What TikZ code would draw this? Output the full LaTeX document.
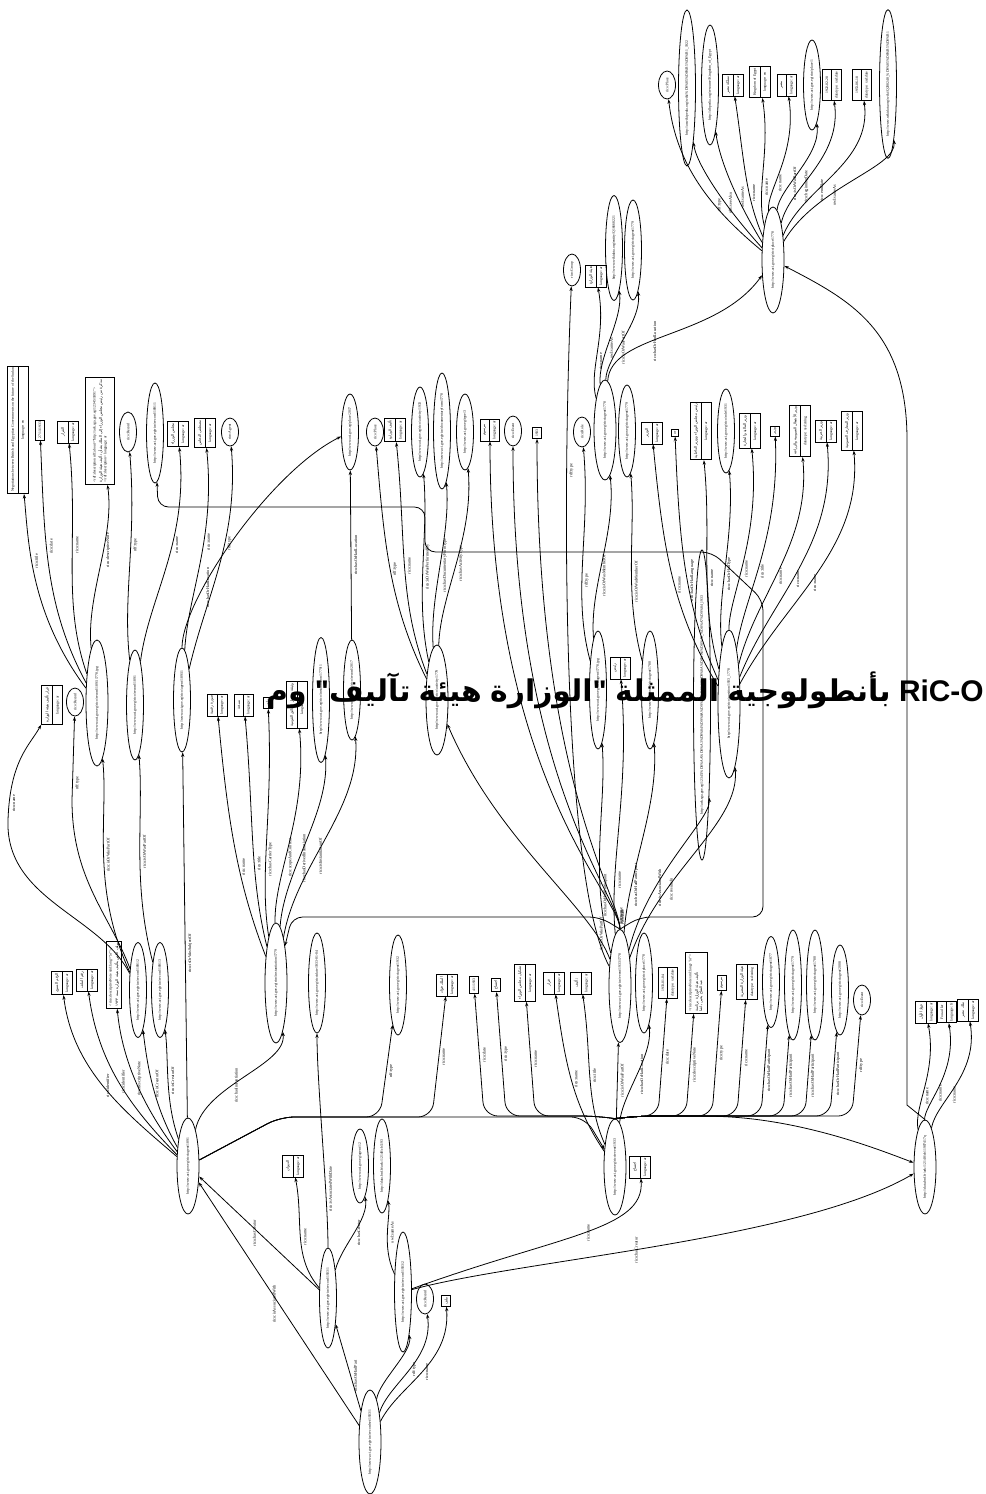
\documentclass[tikz,border=0pt]{standalone}
\usepackage{fontspec}
\setmainfont{Liberation Serif}
\newfontfamily\arabicfont[Script=Arabic]{DejaVu Sans}
\newfontfamily\titlefont{Liberation Sans}
\TeXXeTstate=1
\usetikzlibrary{shapes.geometric, shapes.multipart, arrows.meta, positioning}

\newcommand{\tx}{\fontsize{2.1}{2.5}\selectfont}
\newcommand{\lx}{\fontsize{2.4}{2.8}\selectfont}
\newcommand{\artxt}[1]{{\arabicfont\beginR #1\endR}}
\newcommand{\tw}[1]{{\arabicfont\bfseries\beginR #1\endR}}

\begin{document}
\begin{tikzpicture}[
  x=0.02cm, y=-0.02cm,
  ent/.style={ellipse, draw, line width=0.45pt, rotate=90, inner sep=0.2pt, minimum height=0.34cm, minimum width=#1*0.02cm, font=\tx},
  ent/.default=40,
  hub/.style={ent=#1, minimum height=0.44cm},
  lit/.style={rectangle split, rectangle split parts=2, draw, line width=0.45pt, rotate=90, inner xsep=1pt, inner ysep=1.7pt, font=\tx},
  val/.style={rectangle, draw, line width=0.45pt, rotate=90, inner xsep=1pt, inner ysep=1.7pt, font=\tx},
  note/.style={rectangle, draw, line width=0.45pt, rotate=90, align=left, inner sep=1.3pt, font=\tx},
  e/.style={line width=0.45pt, -{Stealth[length=2.6pt, width=1.8pt]}},
  fan/.style={out=#1, in=-90},
  fan/.default=90,
  lbl/.style={xshift=2.7pt, rotate=90, font=\lx, inner sep=0.3pt},
  lbll/.style={xshift=-2.7pt, rotate=90, font=\lx, inner sep=0.3pt}
]
\useasboundingbox (0,0) rectangle (986,1494);

% place cluster (top right)
\node[hub=106] (place) at (773,260) {http://www.aci.gov.eg/rico/place/1778};
\node[ent=28] (placeclass) at (667,85) {rico:Place};
\node[ent=156] (placewiki) at (687,88) {http://ar.wikipedia.org/wiki/\%D9\%85\%D8\%B5\%D8\%B1\_1922};
\node[ent=120] (placedbp) at (710,85) {http://dbpedia.org/resource/Kingdom\_of\_Egypt};
\node[lit] (placename1) at (733,85) {\artxt{مملكة مصر}\nodepart{two}language: ar};
\node[lit] (placename2) at (760,82) {Kingdom of Egypt\nodepart{two}language: en};
\node[lit] (placename3) at (787,85) {\artxt{مصر}\nodepart{two}language: ar};
\node[ent=90] (placeparent) at (812,85) {http://www.aci.gov.eg/rico/place/1};
\node[lit] (placebegin) at (832,85) {1922-02-28\nodepart{two}datatype: xsd:date};
\node[lit] (placeend) at (862,85) {1953-06-18\nodepart{two}datatype: xsd:date};
\node[ent=132] (placewd) at (888,84) {http://www.wikidata.org/wiki/Q208248\_\%D9\%85\%D8\%B5\%D8\%B1};

% ministry cluster (top middle)
\node[ent=32] (grouptype) at (572,270) {rico:Group};
\node[lit] (minname) at (596,276) {\artxt{هيئة الوزارة}\nodepart{two}language: ar};
\node[ent=105] (minsame) at (614,248) {http://www.wikidata.org/entity/Q16668221};
\node[ent=100] (minsee) at (633,250) {http://www.aci.gov.eg/rico/agent/1779};

% upper row
\node[lit] (subject) at (18,430) {Negotiations between British and Egyptian Governments on the future of the Sudan\nodepart{two}language: en};
\node[val] (datebox) at (40,430) {27/11/1933};
\node[lit] (title1) at (68,432) {\artxt{القرار}\nodepart{two}language: ar};
\node[note, minimum height=0.58cm] (descnote) at (100,431) {<rdf:description rdf:about="http://ark.sga.gov.eg/12345/1891">\\ \artxt{مذكرة من رئيس مجلس الوزراء إلى الملك بشأن تأليف هيئة الوزارة}\\ </rdf:description> language: ar};
\node[ent=40] (rectype2) at (128,432) {rico:Record};
\node[ent=100] (recpart) at (155,433) {http://www.aci.gov.eg/rico/record/1891/1};
\node[lit] (council) at (178,434) {\artxt{مجلس الوزراء}\nodepart{two}language: ar};
\node[lit] (pname) at (205,433) {\artxt{مصطفى النحاس}\nodepart{two}language: ar};
\node[ent=28] (agtype) at (230,432) {rico:Agent};
\node[ent=76] (place2) at (350,432) {http://www.aci.gov.eg/place/2017};
\node[ent=28] (plctype) at (375,432) {rico:Place};
\node[lit] (actname) at (395,430) {\artxt{تأليف الوزارة}\nodepart{two}language: ar};
\node[ent=90] (actdoc) at (420,432) {http://www.aci.gov.eg/rico/activity/1933};
\node[ent=116] (actform) at (442,431) {http://www.aci.gov.eg/rico/documentaryform/1778};
\node[ent=76] (acttype) at (465,432) {http://www.aci.gov.eg/type/3};
\node[lit] (evname) at (490,430) {\artxt{مرسوم}\nodepart{two}language: ar};
\node[ent=30] (evtype) at (513,431) {rico:Event};
\node[val] (evyear) at (537,433) {1933};
\node[ent=30] (roletype) at (582,432) {rico:Role};
\node[hub=100] (ministry) at (605,430) {http://www.aci.gov.eg/rico/agent/1778};
\node[ent=92] (ministry2) at (627,431) {http://www.aci.gov.eg/rico/agent/1779};
\node[lit] (pos1) at (652,433) {\artxt{الوزير}\nodepart{two}language: ar};
\node[val] (pos2) at (675,433) {ar};
\node[lit] (pos3) at (701,431) {\artxt{رئيس مجلس الوزراء ووزير الداخلية}\nodepart{two}language: ar};
\node[ent=84] (pos4) at (726,431) {http://www.aci.gov.eg/rico/role/1931};
\node[lit] (pos5) at (750,431) {\artxt{وزير المالية والتجارة}\nodepart{two}language: ar};
\node[val] (pos6) at (775,431) {\artxt{وزير}};
\node[lit] (pos7) at (800,431) {\artxt{وزير الأشغال العمومية والزراعة}\nodepart{two}datatype: xsd:string};
\node[lit] (pos8) at (826,431) {\artxt{وزير الحربية}\nodepart{two}language: ar};
\node[lit] (pos9) at (852,431) {\artxt{وزير المعارف العمومية}\nodepart{two}language: ar};

% middle row
\node[hub=126] (record) at (97,703) {http://www.aci.gov.eg/rico/record/1891/1778.jpg};
\node[ent=110] (record2) at (135,705) {http://www.aci.gov.eg/rico/record/1891};
\node[ent=104] (agent2) at (182,700) {http://www.aci.gov.eg/rico/agent/1891/1};
\node[lit] (decree) at (52,705) {\artxt{قرار تأليف هيئة الوزارة}\nodepart{two}language: ar};
\node[ent=28] (dectype) at (75,702) {rico:Record};
\node[lit] (inst1) at (217,705) {\artxt{صورة رقمية}\nodepart{two}language: ar};
\node[lit] (inst2) at (244,705) {\artxt{نسخة}\nodepart{two}language: ar};
\node[val] (inst3) at (268,703) {\artxt{ملون}};
\node[lit] (inst4) at (297,705) {\artxt{وثيقة من دار الوثائق القومية}\nodepart{two}language: ar};
\node[ent=125] (inst5) at (321,700) {http://www.aci.gov.eg/rico/instantiation/1779/1};
\node[ent=100] (inst6) at (352,690) {http://www.aci.gov.eg/rico/record/2017};
\node[hub=110] (activity) at (437,700) {http://www.aci.gov.eg/rico/activity/1779};
\node[ent=118] (member1) at (598,690) {http://www.aci.gov.eg/rico/agent/1778.jpg};
\node[lit] (role1) at (620,668) {\artxt{رئيس}\nodepart{two}language: ar};
\node[ent=118] (member2) at (650,690) {http://www.aci.gov.eg/rico/agent/1780};
\node[ent=306] (arkuri) at (702,705) {http://ark.sga.gov.eg/12345/\%D8\%AA\%D8\%A3\%D9\%84\%D9\%8A\%D9\%81\_\%D9\%87\%D9\%8A\%D8\%A6\%D8\%A9\_\%D8\%A7\%D9\%84\_1933};
\node[hub=148] (position) at (729,704) {http://www.aci.gov.eg/rico/position/1933\_1778};

% lower row
\node[lit] (secret) at (62,983) {\artxt{الرقم السري}\nodepart{two}language: ar};
\node[lit] (fileno) at (87,980) {\artxt{رقم الملف}\nodepart{two}language: ar};
\node[note] (desc2) at (114,975) {<rico:descriptiveNote xml:lang="ar">\\ \artxt{ملف خاص بتأليف هيئة الوزارة سنة ١٩٣٣}};
\node[ent=95] (doc) at (138,990) {http://www.aci.gov.eg/rico/record/1891/2};
\node[ent=95] (doc2) at (160,990) {http://www.aci.gov.eg/rico/record/1891/3};
\node[hub=120] (instantiation) at (276,983) {http://www.aci.gov.eg/rico/instantiation/1779};
\node[ent=100] (date) at (317,983) {http://www.aci.gov.eg/rico/date/1933-01-04};
\node[ent=100] (king) at (398,985) {http://www.aci.gov.eg/rico/agent/1932};
\node[lit] (kingname) at (447,985) {\artxt{الملك فؤاد}\nodepart{two}language: ar};
\node[val] (c1) at (474,985) {4/1/1933};
\node[val] (c2) at (496,985) {\artxt{اجتماع}};
\node[lit] (c3) at (525,983) {\artxt{تشكيل مجلس الوزراء}\nodepart{two}language: ar};
\node[lit] (c4) at (554,983) {\artxt{قرار}\nodepart{two}language: ar};
\node[lit] (c5) at (581,983) {\artxt{تأليف}\nodepart{two}language: ar};
\node[hub=113] (event) at (620,986) {http://www.aci.gov.eg/rico/event/1933/1778};
\node[ent=100] (c6) at (644,983) {http://www.aci.gov.eg/rico/place/1778};
\node[lit] (c7) at (668,983) {1933-01-04\nodepart{two}datatype: xsd:date};
\node[note, minimum height=0.44cm] (c8) at (696,983) {<rico:descriptiveNote xml:lang="ar">\\ \artxt{تأليف هيئة الوزارة برئاسة}\\ \artxt{عبد الفتاح يحيى باشا}};
\node[val] (c9) at (722,983) {\artxt{مرسوم}};
\node[lit] (c10) at (747,982) {\artxt{هيئة الوزارة المصرية}\nodepart{two}datatype: xsd:string};
\node[ent=91] (c11) at (771,982) {http://www.aci.gov.eg/rico/agent/1877};
\node[ent=110] (c12) at (793,985) {http://www.aci.gov.eg/rico/agent/1779};
\node[ent=110] (c13) at (815,985) {http://www.aci.gov.eg/rico/agent/1780};
\node[ent=90] (c14) at (840,990) {http://www.aci.gov.eg/rico/agent/2008};
\node[ent=30] (c15) at (862,1000) {rico:Event};
\node[lit] (pn1) at (926,1012) {\artxt{فؤاد الأول}\nodepart{two}language: ar};
\node[lit] (pn2) at (947,1012) {Fouad Ier\nodepart{two}language: fr};
\node[lit] (pn3) at (968,1010) {\artxt{ملك مصر}\nodepart{two}language: ar};

% bottom
\node[hub=96] (agent) at (188,1166) {http://www.aci.gov.eg/rico/agent/1891};
\node[lit] (office) at (293,1166) {\artxt{الديوان}\nodepart{two}language: ar};
\node[ent=74] (official) at (360,1166) {http://www.aci.gov.eg/agent/12};
\node[ent=94] (bnfrec) at (382,1166) {http://data.bnf.fr/ark:/12148/cb1193};
\node[hub=96] (meeting) at (615,1167) {http://www.aci.gov.eg/rico/event/1933};
\node[lit] (meetname) at (640,1167) {\artxt{اجتماع}\nodepart{two}language: ar};
\node[hub=94] (person) at (925,1167) {http://data.bnf.fr/ark:/12148/cb11907417q};
\node[ent=100] (rec1) at (328,1298) {http://www.aci.gov.eg/rico/record/1933/1};
\node[ent=120] (rec2) at (403,1292) {http://www.aci.gov.eg/rico/record/1933/2};
\node[ent=30] (rectype) at (425,1299) {rico:Record};
\node[val] (recname) at (446,1301) {\artxt{ملف}};
\node[hub=104] (recordset) at (370,1442) {http://www.aci.gov.eg/rico/recordset/1933/1};

% edges: place
\draw[e] (place) to[fan=130] node[lbl,pos=.35]{rdf:type} (placeclass);
\draw[e] (place) to[fan=122] node[lbl,pos=.35]{rdfs:seeAlso} (placewiki);
\draw[e] (place) to[fan=112] node[lbl,pos=.35]{owl:sameAs} (placedbp);
\draw[e] (place) to[fan=104] node[lbl,pos=.35]{rico:name} (placename1);
\draw[e] (place) to[fan=95] node[lbl,pos=.35]{rico:name} (placename2);
\draw[e] (place) to[fan=86] node[lbl,pos=.35]{rico:name} (placename3);
\draw[e] (place) to[fan=76] node[lbl,pos=.35]{rico:isOrWasPartOf} (placeparent);
\draw[e] (place) to[fan=68] node[lbl,pos=.35]{rico:beginningDate} (placebegin);
\draw[e] (place) to[fan=58] node[lbl,pos=.35]{rico:endDate} (placeend);
\draw[e] (place) to[fan=50] node[lbl,pos=.35]{owl:sameAs} (placewd);

% edges: ministry
\draw[e] (ministry) to[fan=95] node[lbl,pos=.4]{rico:name} (minname);
\draw[e] (ministry) to[fan=87] node[lbl,pos=.4]{owl:sameAs} (minsame);
\draw[e] (ministry) to[fan=80] node[lbl,pos=.4]{rico:isOrWasPartOf} (minsee);
\draw[e] (ministry) to[out=80,in=-135] node[lbl,pos=.4]{rico:hasOrHadLocation} (place);
\draw[e] (person.east) -- (907,1105) -- (907,440) .. controls (907,330) and (850,300) .. (place);

% edges: position
\draw[e] (position) to[fan=115] node[lbl,pos=.45]{rico:name} (pos1);
\draw[e] (position) to[fan=108] node[lbl,pos=.45]{rico:hasOrHadLanguage} (pos2);
\draw[e] (position) to[fan=100] node[lbl,pos=.45]{rico:name} (pos3);
\draw[e] (position) to[fan=91] node[lbl,pos=.45]{rico:hasOrHadType} (pos4);
\draw[e] (position) to[fan=84] node[lbl,pos=.45]{rico:name} (pos5);
\draw[e] (position) to[fan=76] node[lbl,pos=.45]{rico:title} (pos6);
\draw[e] (position) to[fan=70] node[lbl,pos=.45]{rico:name} (pos7);
\draw[e] (position) to[fan=62] node[lbl,pos=.45]{rico:name} (pos8);
\draw[e] (position) to[fan=55] node[lbl,pos=.45]{rico:name} (pos9);

% edges: members and activity
\draw[e] (member1) to[fan] node[lbl,pos=.4]{rico:isOrWasMemberOf} (ministry);
\draw[e] (member1) to[fan=100] node[lbl,pos=.4]{rdf:type} (roletype);
\draw[e] (member2) to[fan=100] node[lbl,pos=.4]{rico:isOrWasMemberOf} (ministry2);
\draw[e] (activity) to[fan=105] node[lbl,pos=.5]{rico:name} (actname);
\draw[e] (activity) to[fan=96] node[lbl,pos=.5]{rico:isOrWasPerformedBy} (actdoc);
\draw[e] (activity) to[fan=88] node[lbl,pos=.5]{rico:hasDocumentaryFormType} (actform);
\draw[e] (activity) to[fan=82] node[lbl,pos=.5]{rico:hasActivityType} (acttype);
\draw[e] (activity) to[fan=110] node[lbl,pos=.5]{rdf:type} (plctype);

% edges: event
\draw[e] (event) .. controls +(0,-90) and +(0,350) .. (evname) node[lbl,pos=.1]{rico:name};
\draw[e] (event) .. controls +(0,-90) and +(0,350) .. (evtype) node[lbl,pos=.1]{rdf:type};
\draw[e] (event) .. controls +(0,-90) and +(0,350) .. (evyear) node[lbl,pos=.1]{rico:date};
\draw[e] (event) .. controls (562,880) and (562,500) .. (grouptype) node[lbl,pos=.75]{rdf:type};
\draw[e] (event) to[fan=100] node[lbl,pos=.25]{rico:hasOrHadParticipant} (member1);
\draw[e] (event) to[fan=90] node[lbl,pos=.25]{rico:name} (role1);
\draw[e] (event) to[fan=80] node[lbl,pos=.25]{rico:hasOrHadParticipant} (member2);
\draw[e] (event) to[fan=70] node[lbl,pos=.3]{rico:isAssociatedWith} (arkuri);
\draw[e] (event) to[fan=65] node[lbl,pos=.3]{rico:resultsIn} (position);
\draw[e] (event) .. controls +(-30,-80) and +(60,140) .. (activity) node[lbl,pos=.15]{rico:isOrWasPartOf};
\draw[e, rounded corners=6pt] (event.east) -- (640,917) -- (763,917) -- (763,600) -- (712,552) -- (425,552) -- (425,507) -- (158,507) -- (recpart);
\draw[e, rounded corners=6pt] (event.east) -- (600,917) -- (292,917) -- (instantiation);

% edges: instantiation
\draw[e] (instantiation) to[fan=105] node[lbl,pos=.4]{rico:name} (inst1);
\draw[e] (instantiation) to[fan=98] node[lbl,pos=.4]{rico:title} (inst2);
\draw[e] (instantiation) to[fan=93] node[lbl,pos=.4]{rico:hasCarrierType} (inst3);
\draw[e] (instantiation) to[fan=85] node[lbl,pos=.4]{rico:scopeAndContent} (inst4);
\draw[e] (instantiation) to[fan=80] node[lbl,pos=.4]{rico:hasDerivedInstantiation} (inst5);
\draw[e] (instantiation) to[fan=75] node[lbl,pos=.4]{rico:isInstantiationOf} (inst6);
\draw[e] (inst6) -- node[lbl,pos=.5]{rico:hasOrHadLocation} (place2);

% edges: top-left
\draw[e] (record) to[fan=120] node[lbl,pos=.6]{rico:title} (subject);
\draw[e] (record) to[fan=112] node[lbl,pos=.6]{rico:date} (datebox);
\draw[e] (record) to[fan=103] node[lbl,pos=.6]{rico:name} (title1);
\draw[e] (record) to[fan=90] node[lbl,pos=.6]{rico:descriptiveNote} (descnote);
\draw[e] (record2) to[fan=92] node[lbl,pos=.6]{rdf:type} (rectype2);
\draw[e] (record2) to[fan=78] node[lbl,pos=.6]{rico:name} (council);
\draw[e] (agent2) to[fan=82] node[lbl,pos=.6]{rico:name} (pname);
\draw[e] (agent2) to[fan=72] node[lbl,pos=.6]{rdf:type} (agtype);
\draw[e] (agent2) .. controls +(0,-100) and +(-80,40) .. (place2) node[lbl,pos=.3]{rico:hasOrHadLocation};
\draw[e] (doc) .. controls (100,915) and (5,900) .. (8,820) .. controls (10,760) and (30,745) .. (decree) node[lbl,pos=.1]{rico:name};
\draw[e] (doc) .. controls (110,915) and (72,880) .. (72,800) -- (dectype) node[lbl,pos=.2]{rdf:type};
\draw[e] (doc) to[fan=110] node[lbl,pos=.5]{rico:isOrWasPartOf} (record);
\draw[e] (doc2) to[fan=100] node[lbl,pos=.5]{rico:isOrWasPartOf} (record2);

% edges: agent
\draw[e] (agent) to[fan=130] node[lbl,pos=.5]{rico:identifier} (secret);
\draw[e] (agent) to[fan=125] node[lbl,pos=.5]{rico:identifier} (fileno);
\draw[e] (agent) to[fan=118] node[lbl,pos=.5]{rico:descriptiveNote} (desc2);
\draw[e] (agent) to[fan=110] node[lbl,pos=.5]{rico:isCreatorOf} (doc);
\draw[e] (agent) to[fan=100] node[lbl,pos=.5]{rico:isCreatorOf} (doc2);
\draw[e] (agent) -- node[lbl,pos=.45]{rico:isOrWasSubjectOf} (agent2);
\draw[e] (agent) to[out=70,in=-90] node[lbl,pos=.4]{rico:hasInstantiation} (instantiation);
\draw[e, rounded corners=8pt] (agent) -- (280,1117) -- (380,1117) -- node[lbl,pos=.5]{rdf:type} (king);
\draw[e, rounded corners=8pt] (agent) -- (280,1117) -- (432,1117) -- node[lbl,pos=.5]{rico:name} (kingname);
\draw[e, rounded corners=8pt] (agent) -- (280,1117) -- (585,1117) -- (meeting);

% edges: meeting
\draw[e] (meeting) -- node[lbl,pos=.5]{rico:isOrWasPartOf} (event);
\draw[e, rounded corners=8pt] (meeting.east) -- (595,1116) -- (484,1116) -- node[lbl,pos=.5]{rico:date} (c1);
\draw[e, rounded corners=8pt] (meeting.east) -- (595,1116) -- (506,1116) -- node[lbl,pos=.5]{rico:type} (c2);
\draw[e, rounded corners=8pt] (meeting.east) -- (595,1116) -- (535,1116) -- node[lbl,pos=.5]{rico:name} (c3);
\draw[e] (meeting) to[fan=115] node[lbl,pos=.5]{rico:name} (c4);
\draw[e] (meeting) to[fan=105] node[lbl,pos=.5]{rico:title} (c5);
\draw[e] (meeting) to[fan=75] node[lbl,pos=.5]{rico:hasOrHadLocation} (c6);
\draw[e, rounded corners=8pt] (meeting.east) -- (640,1116) -- (658,1116) -- node[lbl,pos=.5]{rico:date} (c7);
\draw[e, rounded corners=8pt] (meeting.east) -- (640,1116) -- (686,1116) -- node[lbl,pos=.5]{rico:descriptiveNote} (c8);
\draw[e, rounded corners=8pt] (meeting.east) -- (640,1116) -- (712,1116) -- node[lbl,pos=.5]{rico:type} (c9);
\draw[e, rounded corners=8pt] (meeting.east) -- (640,1116) -- (737,1116) -- node[lbl,pos=.5]{rico:name} (c10);
\draw[e, rounded corners=8pt] (meeting.east) -- (640,1116) -- (761,1116) -- node[lbl,pos=.5]{rico:hasOrHadParticipant} (c11);
\draw[e, rounded corners=8pt] (meeting.east) -- (640,1116) -- (783,1116) -- node[lbl,pos=.5]{rico:hasOrHadParticipant} (c12);
\draw[e, rounded corners=8pt] (meeting.east) -- (640,1116) -- (805,1116) -- node[lbl,pos=.5]{rico:hasOrHadParticipant} (c13);
\draw[e, rounded corners=8pt] (meeting.east) -- (640,1116) -- (830,1116) -- node[lbl,pos=.5]{rico:hasOrHadParticipant} (c14);
\draw[e, rounded corners=8pt] (meeting.east) -- (640,1116) -- (852,1116) -- node[lbl,pos=.5]{rdf:type} (c15);
\draw[e, rounded corners=8pt] (meeting.east) -- (640,1116) -- (700,1116) .. controls (800,1118) and (880,1150) .. (person);

% edges: person
\draw[e] (person) to[fan=90] node[lbl,pos=.4]{rico:name} (pn1);
\draw[e] (person) to[fan=80] node[lbl,pos=.4]{rico:name} (pn2);
\draw[e] (person) to[fan=70] node[lbl,pos=.4]{rico:name} (pn3);

% edges: record set and records
\draw[e] (recordset) -- node[lbll,pos=.5]{rico:isAssociatedWith} (agent);
\draw[e] (recordset) -- node[lbl,pos=.4]{rico:hasOrHadPart} (rec1);
\draw[e] (recordset) to[out=70,in=-90] (rec2);
\draw[e] (recordset) to[out=60,in=-90] node[lbl,pos=.5]{rdf:type} (rectype);
\draw[e] (recordset) to[out=50,in=-90] node[lbl,pos=.5]{rico:name} (recname);
\draw[e] (rec1) -- node[lbll,pos=.5]{rico:hasCreator} (agent);
\draw[e] (rec1) to[fan=120] node[lbl,pos=.5]{rico:name} (office);
\draw[e] (rec1) to[fan=65] node[lbl,pos=.5]{rico:hasCreator} (official);
\draw[e] (rec1) .. controls +(0,-100) and +(0,100) .. (date) node[lbl,pos=.3]{rico:isAssociatedWithDate};
\draw[e] (rec2) to[fan=105] node[lbl,pos=.5]{owl:sameAs} (bnfrec);
\draw[e] (rec2) .. controls (560,1235) and (645,1230) .. (meetname) node[lbl,pos=.5]{rico:name};
\draw[e] (rec2) .. controls (520,1260) and (800,1240) .. (person) node[lbl,pos=.45]{rico:hasCreator};

% title
\node[anchor=east, inner sep=0pt, font=\fontsize{17}{19}\selectfont\titlefont\bfseries] (title) at (984,690)
  {\tw{وم} "\tw{تآليف} \tw{هيئة} \tw{الوزارة}" \tw{الممثلة} \tw{بأنطولوجية} RiC-O};
\end{tikzpicture}
\end{document}
